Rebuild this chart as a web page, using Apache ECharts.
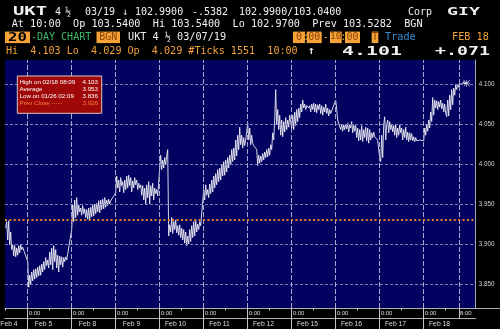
<!DOCTYPE html>
<html><head><meta charset="utf-8">
<script src="https://cdn.jsdelivr.net/npm/echarts@6/dist/echarts.min.js"></script>
<style>html,body{margin:0;padding:0;background:#000;}#c{width:500px;height:329px;}</style>
</head><body><div id="c"></div>
<script>
// ---- data ----
const dayLabels = ['Feb 4','Feb 5','Feb 8','Feb 9','Feb 10','Feb 11','Feb 12','Feb 15','Feb 16','Feb 17','Feb 18'];
const firstSlot = [22,0,0,0,0,0,0,0,0,0,0]; // first sampled slot of each day (44 slots = 0:00-10:00)
const feb04 = [3.920,3.928,3.905,3.929,3.899,3.915,3.893,3.900,3.885,3.898,3.884,3.895,3.886,3.898,3.889,3.899,3.893,3.896];
const feb05 = [3.878,3.846,3.861,3.850,3.865,3.854,3.868,3.856,3.869,3.858,3.871,3.860,3.873,3.861,3.875,3.865,3.878,3.868,3.883,3.873,3.880,3.870,3.890,3.874,3.895,3.868,3.898,3.878,3.893,3.870,3.886,3.865,3.885,3.874,3.884,3.871,3.883,3.878,3.884,3.880];
const feb08 = [3.918,3.949,3.928,3.955,3.933,3.958,3.936,3.949,3.940,3.945,3.936,3.948,3.938,3.944,3.933,3.943,3.931,3.945,3.930,3.946,3.934,3.949,3.935,3.950,3.938,3.951,3.940,3.954,3.939,3.955,3.943,3.956,3.944,3.958,3.946,3.955,3.948,3.956,3.950,3.954];
const feb09 = [3.964,3.985,3.970,3.980,3.965,3.983,3.973,3.978,3.964,3.980,3.968,3.985,3.970,3.986,3.973,3.983,3.965,3.979,3.970,3.983,3.974,3.980,3.968,3.976,3.970,3.974,3.961,3.973,3.955,3.970,3.950,3.974,3.958,3.978,3.950,3.973,3.960,3.976,3.955,3.970,3.963,3.968,3.960];
const feb10 = [3.995,4.011,3.993,4.005,3.995,4.008,3.999,4.011,4.018,3.910,3.924,3.915,3.933,3.913,3.928,3.918,3.930,3.914,3.923,3.911,3.924,3.908,3.920,3.905,3.918,3.901,3.915,3.898,3.910,3.900,3.918,3.903,3.923,3.908,3.928,3.910,3.930,3.915,3.925,3.918,3.928,3.923];
const feb11 = [3.968,3.955,3.974,3.961,3.968,3.958,3.975,3.963,3.980,3.965,3.985,3.970,3.988,3.974,3.993,3.978,3.995,3.980,3.999,3.985,4.003,3.986,4.005,3.990,4.008,3.995,4.011,3.999,4.018,4.003,4.020,4.005,4.030,4.010,4.036,4.018,4.046,4.024,4.036,4.020,4.033,4.023,4.030];
const feb12 = [4.051,4.030,4.045,4.024,4.036,4.026,4.023,4.021,4.021,4.018,3.998,4.011,4.001,4.010,4.003,4.013,4.005,4.015,4.008,4.018,4.009,4.020,4.011,4.024,4.018,4.039,4.030,4.055,4.093,4.049,4.068,4.043,4.061,4.036,4.055,4.034,4.053,4.040,4.058,4.043,4.055,4.046,4.061,4.053];
const feb15 = [4.045,4.061,4.043,4.065,4.048,4.068,4.053,4.070,4.058,4.075,4.065,4.080,4.070,4.075,4.068,4.073,4.074,4.070,4.073,4.065,4.075,4.068,4.076,4.065,4.075,4.064,4.074,4.068,4.075,4.063,4.073,4.061,4.071,4.065,4.075,4.063,4.070,4.060,4.068,4.063,4.065];
const feb16 = [4.080,4.068,4.055,4.054,4.054,4.043,4.050,4.041,4.049,4.043,4.050,4.044,4.051,4.040,4.049,4.045,4.053,4.039,4.049,4.041,4.048,4.033,4.045,4.029,4.043,4.030,4.048,4.028,4.043,4.033,4.046,4.029,4.045,4.026,4.043,4.030,4.039,4.033,4.040,4.034,4.036,4.035,4.030,4.018];
const feb17 = [4.008,4.003,4.036,4.008,4.049,4.059,4.030,4.049,4.055,4.039,4.053,4.043,4.050,4.040,4.048,4.036,4.050,4.033,4.045,4.036,4.049,4.039,4.045,4.030,4.043,4.033,4.046,4.030,4.040,4.028,4.039,4.030,4.038,4.029,4.034,4.028,4.033,4.029,4.031,4.028,4.030];
const feb18 = [4.029,4.045,4.036,4.050,4.041,4.055,4.045,4.065,4.053,4.083,4.061,4.080,4.070,4.079,4.068,4.078,4.071,4.080,4.069,4.076,4.065,4.075,4.063,4.059,4.080,4.060,4.086,4.068,4.093,4.074,4.095,4.086,4.099,4.093,4.100,4.096,4.100,4.099,4.101,4.100,4.103,4.100,4.101,4.101];
const yTicks = [3.85,3.90,3.95,4.00,4.05,4.10];
const prevClose = 3.926;
const lastDayExtraHour = 8; // "8:00" tick on last day
const statRows = [['High on 02/18 08:09','4.103'],['Average','3.953'],['Low on 01/26 02:09','3.836'],['Prev Close -----','3.926']];

// ---- build ----
const HOURS = 10, SLOTS = 44;
const X_MIN = 4.84, X_MAX = 111.82, Y_MIN = 3.82, Y_MAX = 4.13;
const dayValues = [feb04,feb05,feb08,feb09,feb10,feb11,feb12,feb15,feb16,feb17,feb18];
const points = [];
dayValues.forEach((vals, d) => vals.forEach((v, i) => points.push([d*HOURS + (firstSlot[d]+i)*HOURS/SLOTS, v])));
const dayStarts = dayLabels.map((_, d) => d*HOURS).filter(h => h > X_MIN && h < X_MAX);
const midDays = dayLabels.map((_, d) => d*HOURS + 5).filter(h => h > X_MIN && h < X_MAX);
const extraTick = (dayLabels.length-1)*HOURS + lastDayExtraHour;
const dateLabelPos = dayLabels.map((_, d) => Math.max(d*HOURS + 3.6, X_MIN + 0.9));

const gridLines = [
  ...yTicks.map(v => ({yAxis: v, lineStyle: {color:'#8080b8', type:[3,2], width:1}})),
  ...dayStarts.concat([extraTick]).map(h => ({xAxis: h, lineStyle: {color:'#a8a8cc', type:[5,2], width:1}})),
  {yAxis: prevClose, lineStyle: {color:'#e8802e', type:[2,2.4], width:2}}
];

const W = '#f0f0f0', OR = '#f2a23a', GR = '#3fba68', BL = '#3b8ed6', BOX = '#f5a339', BOXT = '#8a4300';
const MONO = 'DejaVu Sans Mono';
function txt(x, y, text, fill, size, o) {
  o = o || {};
  return {type:'text', x:x, y:y, scaleX:o.sx||1, silent:true, z:10,
    style:{text:text, fill:fill, font:(o.bold?'bold ':'')+size+'px "'+(o.family||MONO)+'"',
      textAlign:o.align||'left', textVerticalAlign:'middle'}};
}
function box(x, y, w, h, fill) {
  return {type:'rect', silent:true, z:9, shape:{x:x, y:y, width:w, height:h}, style:{fill:fill}};
}
const header = [
  txt(13,12,'UKT',W,12,{bold:true,sx:1.57}),
  txt(55,12,'4',W,10), txt(65,12,'½',W,10), txt(85,12,'03/19',W,10), txt(122,12,'↓',W,10),
  txt(135,12,'102.9900',W,10), txt(192,12,'-.5382',W,10), txt(239,12,'102.9900/103.0400',W,10),
  txt(408,12,'Corp',W,10), txt(447,12,'GIY',W,11,{bold:true,sx:1.66}),
  txt(11.7,24.8,'At 10:00  Op 103.5400  Hi 103.5400  Lo 102.9700  Prev 103.5282  BGN',W,10.2),
  box(5,31.6,25,11.5,BOX), txt(17.5,37.4,'20','#000',12,{bold:true,sx:1.3,align:'center'}),
  txt(31,37,'-DAY CHART',GR,10),
  box(96.5,31.6,23.5,11.5,BOX), txt(108.2,37,'BGN',BOXT,10,{align:'center'}),
  txt(128,37,'UKT 4 ½ 03/07/19',W,10.2),
  box(293,31.6,12,11.5,BOX), txt(299,37,'0',BOXT,10,{align:'center'}),
  txt(306,37,':',OR,10,{align:'center'}),
  box(306.7,31.6,15,11.5,BOX), txt(314.2,37,'00',BOXT,10,{align:'center'}),
  txt(325.8,37,'-',OR,10,{align:'center'}),
  box(330,31.6,11.7,11.5,BOX), txt(335.8,37,'10',BOXT,9.5,{align:'center'}),
  txt(343.3,37,':',OR,10,{align:'center'}),
  box(345,31.6,15,11.5,BOX), txt(352.5,37,'00',BOXT,10,{align:'center'}),
  box(371.7,31.6,6.6,11.5,BOX), txt(375,37,'T',BOXT,10,{align:'center'}),
  txt(385,37,'Trade',BL,10.2), txt(452,37,'FEB 18',OR,10.2),
  txt(6,51.5,'Hi  4.103 Lo  4.029 Op  4.029 #Ticks 1551  10:00',OR,10.1),
  txt(308,51.5,'↑',W,11,{bold:true}),
  txt(342,51.5,'4.101',W,12,{bold:true,sx:1.66}),
  txt(435,51.5,'+.071',W,12,{bold:true,sx:1.52})
];
const LS = 'Liberation Sans';
const statBox = [{type:'rect', silent:true, z:20, shape:{x:17.3,y:76,width:84.4,height:37.3},
  style:{fill:'#a00808', stroke:'#d8c8c8', lineWidth:1}}];
statRows.forEach((r, i) => {
  const y = 81.8 + i*7.2;
  const c = i === 3 ? '#ff7f3f' : '#ffffff';
  statBox.push({type:'text', silent:true, z:21, x:19.5, y:y, style:{text:r[0], fill:c, font:'6.2px "'+LS+'"', textAlign:'left', textVerticalAlign:'middle'}});
  statBox.push({type:'text', silent:true, z:21, x:98, y:y, style:{text:r[1], fill:c, font:'6.2px "'+LS+'"', textAlign:'right', textVerticalAlign:'middle'}});
});
const frame = [{type:'line', silent:true, z:5, shape:{x1:476,y1:308.5,x2:500,y2:308.5}, style:{stroke:'#b0b0b0', lineWidth:1}}];

const tickColor = '#c4c4c4';
const option = {
  backgroundColor:'#000',
  animation:false,
  grid:{left:5, right:24.3, top:60, bottom:21, show:true, backgroundColor:'#020260', borderWidth:0, containLabel:false, outerBoundsMode:'none'},
  xAxis:[
    {type:'value', min:X_MIN, max:X_MAX, position:'bottom',
     axisLine:{show:true, onZero:false, lineStyle:{color:'#b0b0b0'}},
     axisTick:{show:true, customValues:dayStarts, length:21, lineStyle:{color:tickColor}},
     axisLabel:{customValues:dayStarts.concat([extraTick]), color:'#dcdcdc', fontSize:6, fontFamily:LS, margin:2.5, align:'left', padding:[0,0,0,1],
       formatter:v => Math.round(v - Math.floor(v/HOURS + 1e-9)*HOURS) + ':00'},
     splitLine:{show:false}},
    {type:'value', min:X_MIN, max:X_MAX, position:'bottom',
     axisLine:{show:false}, axisTick:{show:true, customValues:midDays, length:2.5, lineStyle:{color:tickColor}},
     axisLabel:{show:false}, splitLine:{show:false}},
    {type:'value', min:X_MIN, max:X_MAX, position:'bottom', offset:10,
     axisLine:{show:true, onZero:false, lineStyle:{color:'#b0b0b0'}}, axisTick:{show:false},
     axisLabel:{customValues:dateLabelPos, color:'#dcdcdc', fontSize:6.8, fontFamily:LS, margin:2.5, align:'center',
       formatter:v => dayLabels[Math.floor(v/HOURS)]},
     splitLine:{show:false}},
    {type:'value', min:X_MIN, max:X_MAX, position:'bottom',
     axisLine:{show:false}, axisTick:{show:true, customValues:[extraTick], length:10, lineStyle:{color:tickColor}},
     axisLabel:{show:false}, splitLine:{show:false}}
  ],
  yAxis:{type:'value', position:'right', min:Y_MIN, max:Y_MAX, scale:true,
    axisLine:{show:true, lineStyle:{color:'#a8a8b0'}}, axisTick:{show:false}, splitLine:{show:false},
    axisLabel:{customValues:yTicks, formatter:v => v.toFixed(3), color:'#d4d4d4', fontSize:6.3, fontFamily:LS, margin:3}},
  series:[
    {type:'line', data:points, xAxisIndex:0, showSymbol:false, silent:true, z:1,
     lineStyle:{opacity:0},
     markLine:{silent:true, symbol:['none','none'], label:{show:false}, animation:false, data:gridLines}},
    {type:'line', data:points, xAxisIndex:0, showSymbol:false, silent:true, z:3,
     lineStyle:{color:'#ececf6', width:0.9}},
    {type:'scatter', data:[points[points.length-1]], xAxisIndex:0, silent:true, z:4,
     symbol:'path://M0,4.5h10v1H0z M4.5,0h1v10h-1z M1,0.3L9.7,9 9,9.7 0.3,1z M9,0.3L9.7,1 1,9.7 0.3,9z',
     symbolSize:7, itemStyle:{color:'#ffffff'}}
  ],
  graphic:[].concat(header, statBox, frame)
};
const chart = echarts.init(document.getElementById('c'), null, {renderer:'canvas'});
chart.setOption(option);
</script>
</body></html>
